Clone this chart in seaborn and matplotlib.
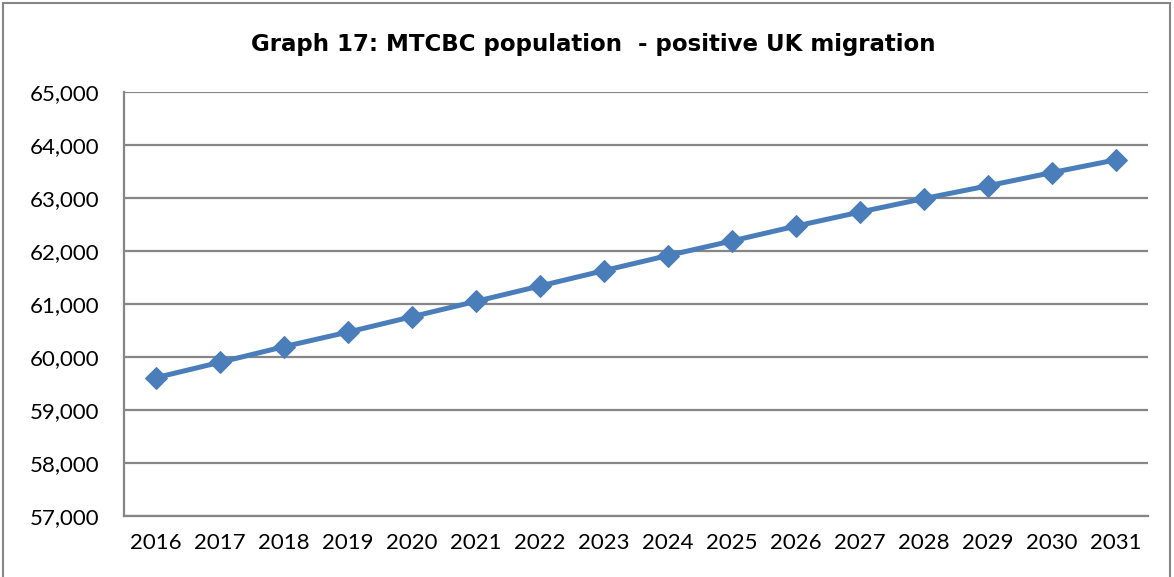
import matplotlib
matplotlib.use("Agg")
import matplotlib.pyplot as plt
import seaborn as sns
import pandas as pd
from matplotlib.ticker import FuncFormatter, MultipleLocator
from matplotlib.patches import Rectangle

years = ["2016", "2017", "2018", "2019", "2020", "2021", "2022", "2023",
         "2024", "2025", "2026", "2027", "2028", "2029", "2030", "2031"]
population = [59610, 59900, 60195, 60470, 60760, 61050, 61340, 61630,
              61915, 62190, 62470, 62735, 62990, 63230, 63480, 63720]
title = "Graph 17: MTCBC population  - positive UK migration"

df = pd.DataFrame({"year": years, "population": population})

sns.set_theme(style="white")
plt.rcParams["font.family"] = ["Lato", "DejaVu Sans"]

fig = plt.figure(figsize=(11.74, 5.77), dpi=100)
ax = fig.add_axes([124/1174, 1-516/577, (1148-124)/1174, (516-92)/577])

sns.lineplot(data=df, x="year", y="population", ax=ax, color="#4a7ebb",
             linewidth=3.6, marker="D", markersize=11, markeredgecolor="#4a7ebb",
             sort=False)

ax.set_ylim(57000, 65000)
ax.set_xlim(-0.5, len(years) - 0.5)
ax.yaxis.set_major_locator(MultipleLocator(1000))
ax.yaxis.set_major_formatter(FuncFormatter(lambda v, p: f"{int(v):,}"))
ax.grid(axis="y", color="#868686", linewidth=1.6)
ax.set_axisbelow(True)
for s in ["top", "right"]:
    ax.spines[s].set_visible(False)
for s in ["left", "bottom"]:
    ax.spines[s].set_color("#868686")
    ax.spines[s].set_linewidth(1.6)
ax.tick_params(axis="both", length=0, labelsize=16, colors="black")
ax.tick_params(axis="y", pad=18)
ax.tick_params(axis="x", pad=12)
ax.set_xlabel("")
ax.set_ylabel("")

fig.text(593/1174, 1-45/577, title, ha="center", va="center", color="black",
         fontsize=16.5, fontweight="bold", family=["DejaVu Sans"])

fig.patches.append(Rectangle((3/1174, -0.05), (1170-3)/1174, 1.05-3/577,
                             transform=fig.transFigure, fill=False,
                             edgecolor="#868686", linewidth=1.5))

fig.savefig("out.png", dpi=100)
